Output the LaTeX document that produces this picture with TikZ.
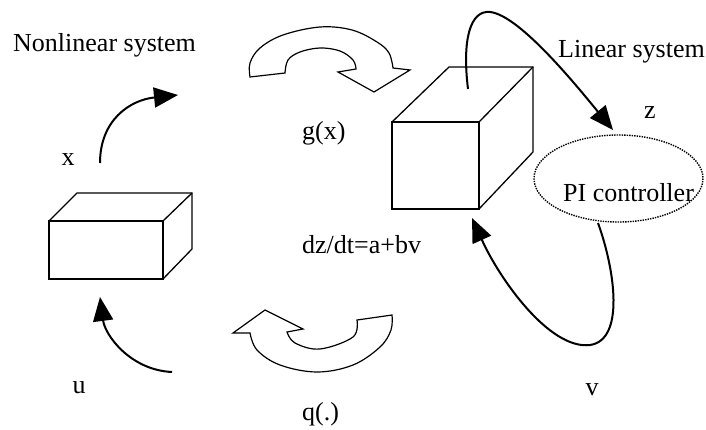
\documentclass[tikz,border=0pt]{standalone}
\usepackage{fontspec}
\setmainfont{Liberation Serif}
\usetikzlibrary{arrows.meta}
\begin{document}
\begin{tikzpicture}[x=1pt,y=-1pt,
  lbl/.style={inner sep=0pt,font=\fontsize{26}{30}\selectfont},
  boxline/.style={line width=1.3pt,line join=miter},
  flow/.style={line width=2pt,-{Triangle[length=24pt,width=20pt]}},
  blockarrow/.style={line width=1.2pt,line join=miter,fill=white}]
\useasboundingbox (0,0) rectangle (706,430);
% labels
\node[lbl,anchor=base west] (nl) at (13,52) {Nonlinear system};
\node[lbl,anchor=base west] (ls) at (558,58) {Linear system};
\node[lbl,anchor=base] (lx) at (68,166) {x};
\node[lbl,anchor=base west] (lg) at (302,140) {g(x)};
\node[lbl,anchor=base] (lz) at (650,119) {z};
\node[lbl,anchor=base west] (lpi) at (563,202) {PI controller};
\node[lbl,anchor=base west] (ld) at (302,253) {dz/dt=a+bv};
\node[lbl,anchor=base] (lu) at (79,393) {u};
\node[lbl,anchor=base west] (lq) at (302,420) {q(.)};
\node[lbl,anchor=base] (lv) at (592,395) {v};
% PI controller ellipse
\draw[line width=1.4pt,dash pattern=on 1.4pt off 1.1pt] (618.5,178.5) ellipse [x radius=84.5,y radius=43.5];
\coordinate (pib) at (598,223);
% left box
\draw[boxline] (49,221) rectangle (163,279);
\draw[boxline] (49,221) -- (77,193) -- (192,193) -- (192,249) -- (163,279);
\draw[boxline] (163,221) -- (192,193);
% right cube
\draw[boxline] (392,122) rectangle (479,209);
\draw[boxline] (392,122) -- (449,67) -- (533,67) -- (533,152) -- (479,209);
\draw[boxline] (479,122) -- (533,67);
% curved arrows
\coordinate (xs) at (100,163); \coordinate (xe) at (178,95);
\draw[flow] (xs) .. controls (100,120) and (130,100) .. (xe);
\coordinate (us) at (172,372); \coordinate (ue) at (100,297);
\draw[flow] (us) .. controls (130,370) and (105,335) .. (ue);
\coordinate (zs) at (468,89); \coordinate (zm) at (490,12); \coordinate (ze) at (613,130);
\draw[flow] (zs) .. controls (462,40) and (470,10) .. (zm) .. controls (520,15) and (580,90) .. (ze);
\coordinate (vm) at (590,345); \coordinate (ve) at (472,218);
\draw[flow] (pib) .. controls (615,270) and (625,340) .. (vm) .. controls (550,350) and (500,280) .. (ve);
% top block arrow
\draw[blockarrow] (250,77) -- (285,73)
  -- plot[smooth,tension=0.6] coordinates {(285,73) (288,60) (300,52) (320,48) (340,51) (353,60) (356,69)}
  -- (338,72) -- (374,92) -- (410,70) -- (393,68)
  -- plot[smooth,tension=0.6] coordinates {(393,68) (389,53) (377,42) (352,30) (320,27) (283,35) (260,48) (250,63) (250,77)}
  -- cycle;
% bottom block arrow
\draw[blockarrow] (233,333) -- (250,333)
  -- plot[smooth,tension=0.6] coordinates {(250,333) (257,350) (280,365) (317,372) (353,365) (380,347) (391,330) (392,315)}
  -- (357,320)
  -- plot[smooth,tension=0.6] coordinates {(357,320) (353,337) (320,349) (295,343) (287,332)}
  -- (303,329) -- (265,310) -- cycle;
\end{tikzpicture}
\end{document}
